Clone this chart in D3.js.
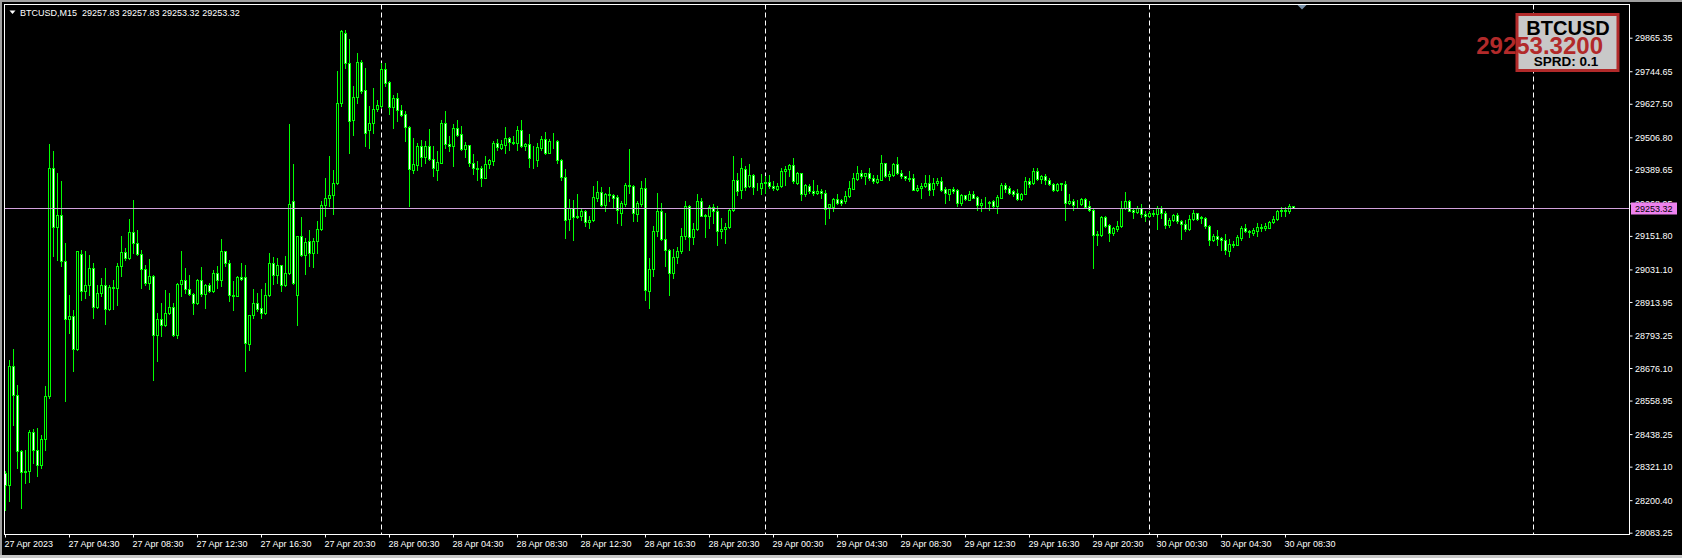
<!DOCTYPE html>
<html>
<head>
<meta charset="utf-8">
<script src="https://cdn.jsdelivr.net/npm/d3@7"></script>
<style>
  html, body { margin: 0; padding: 0; background: #000; overflow: hidden; }
  svg { display: block; }
  text { font-family: "Liberation Sans", Arial, sans-serif; }
</style>
</head>
<body>
<div id="chart"></div>
<script>
// BTCUSD M15 bars, one array per day, each bar is [open, high, low, close]
var apr27 = [
  [28298,28304,28166,28256],[28256,28706,28196,28682],[28682,28744,28472,28580],[28580,28616,28316,28376],
  [28376,28382,28172,28300],[28300,28382,28262,28304],[28304,28452,28264,28446],[28446,28456,28334,28382],
  [28382,28459,28288,28328],[28328,28436,28316,28420],[28420,28612,28380,28574],[28574,29484,28568,29396],
  [29396,29458,29078,29184],[29184,29378,29066,29228],[29228,29348,29044,29060],[29060,29126,28556,28852],
  [28852,28940,28802,28864],[28864,28886,28664,28744],[28744,29098,28742,29098],[29086,29102,28922,28952],
  [28952,29096,28928,28976],[28976,29084,28940,29036],[29036,29056,28855,28896],[28896,28976,28892,28946],
  [28946,29000,28934,28975],[28975,29036,28836,28888],[28888,28974,28886,28968],[28968,28992,28888,28966],
  [28966,29056,28904,29044],[29044,29152,29006,29094],[29094,29108,29066,29072],[29072,29212,29068,29166],
  [29166,29282,29092,29128],[29128,29174,29084,29086],[29086,29102,28964,29032],[29032,29048,28976,28984],
  [28984,29070,28960,29008],[29008,29010,28634,28796],[28796,28874,28700,28852],[28852,28910,28790,28832],
  [28832,28958,28826,28876],[28876,28946,28872,28896],[28896,28910,28790,28796],[28796,28982,28784,28978],
  [28978,29098,28936,28993],[28993,29036,28946,28960],[28960,29012,28940,28944],[28944,28946,28872,28912],
  [28912,28996,28908,28993],[28993,29040,28936,28944],[28944,28977,28891,28975],[28975,28982,28951,28952],
  [28952,29028,28951,29020],[29020,29042,28964,28992],[28992,29140,28972,29096],[29096,29098,29044,29056],
  [29056,29064,28916,28940],[28940,28988,28884,28936],[28936,29008,28934,29004],[29004,29056,28994,28996],
  [29004,29046,28664,28768],[28764,28868,28742,28866],[28866,28960,28858,28910],[28910,28946,28880,28888],
  [28892,28960,28856,28876],[28876,28982,28872,28939],[28939,29092,28936,29054],[29054,29075,28980,29010],
  [29010,29072,28982,29046],[29046,29048,28952,28976],[28976,29080,28972,29020],[29020,29556,29016,29268],
  [29276,29412,28980,28982],[28939,29152,28832,29150],[29150,29220,29080,29084],[29084,29144,29016,29130],
  [29132,29174,29042,29092],[29092,29144,29040,29134],[29134,29204,29092,29176],[29176,29276,29172,29262],
  [29262,29360,29224,29290],[29290,29440,29260,29298],[29298,29390,29232,29342],[29342,29744,29340,29630],
  [29630,29894,29618,29888],[29882,29894,29756,29774],[29774,29860,29452,29564],[29570,29690,29516,29652],
  [29652,29812,29630,29778],[29778,29784,29668,29672],[29676,29756,29476,29524],[29534,29620,29470,29560],
  [29560,29684,29522,29608],[29608,29640,29600,29624]
];
var apr28 = [
  [29620,29776,29616,29752],[29752,29776,29692,29704],[29706,29708,29592,29616],[29616,29660,29539,29648],
  [29648,29668,29564,29604],[29606,29624,29582,29586],[29590,29602,29492,29544],[29544,29546,29258,29392],
  [29388,29504,29380,29410],[29406,29488,29388,29476],[29476,29498,29402,29436],[29436,29492,29416,29476],
  [29476,29536,29426,29428],[29428,29476,29368,29396],[29388,29458,29354,29418],[29416,29568,29414,29558],
  [29558,29602,29468,29482],[29482,29512,29456,29474],[29474,29556,29402,29540],[29540,29570,29512,29516],
  [29518,29546,29460,29464],[29464,29490,29436,29479],[29479,29480,29402,29414],[29414,29446,29376,29398],
  [29398,29422,29354,29392],[29398,29402,29330,29360],[29362,29440,29360,29412],[29410,29428,29396,29426],
  [29420,29492,29408,29486],[29486,29500,29460,29472],[29470,29496,29466,29484],[29480,29544,29452,29505],
  [29505,29508,29460,29490],[29490,29512,29481,29488],[29488,29546,29462,29532],[29534,29570,29472,29474],
  [29474,29488,29460,29482],[29482,29518,29400,29432],[29432,29476,29398,29434],[29426,29488,29402,29472],
  [29468,29512,29462,29502],[29502,29526,29448,29452],[29452,29502,29450,29494],[29494,29522,29468,29492],
  [29494,29498,29416,29424],[29425,29428,29352,29364],[29364,29392,29143,29210],[29212,29284,29174,29252],
  [29252,29282,29138,29220],[29220,29304,29216,29224],[29222,29248,29210,29242],[29242,29244,29186,29202],
  [29202,29222,29180,29210],[29208,29332,29205,29292],[29288,29350,29276,29310],[29310,29328,29258,29264],
  [29264,29306,29240,29302],[29304,29328,29276,29299],[29298,29304,29256,29290],[29292,29300,29200,29244],
  [29236,29276,29190,29270],[29268,29342,29258,29336],[29336,29466,29306,29330],[29332,29336,29206,29234],
  [29230,29278,29204,29270],[29268,29348,29258,29324],[29324,29361,28922,28956],[28952,29074,28894,29032],
  [29032,29186,29006,29170],[29168,29308,29150,29240],[29240,29272,29138,29140],[29140,29236,29042,29102],
  [29102,29104,28940,29018],[29018,29104,29000,29076],[29076,29112,29054,29096],[29096,29180,29090,29152],
  [29150,29278,29140,29258],[29258,29264,29102,29148],[29148,29198,29124,29176],[29176,29304,29174,29276],
  [29276,29288,29222,29224],[29224,29232,29148,29226],[29224,29264,29180,29256],[29256,29268,29200,29240],
  [29240,29260,29120,29170],[29168,29216,29144,29178],[29176,29198,29128,29184],[29184,29252,29180,29244],
  [29244,29440,29241,29352],[29352,29380,29300,29312],[29316,29432,29290,29396],[29392,29402,29318,29328],
  [29330,29412,29328,29370],[29370,29374,29302,29328],[29326,29342,29318,29324],[29324,29376,29302,29342]
];
var apr29 = [
  [29342,29366,29306,29346],[29346,29370,29326,29330],[29330,29348,29316,29324],[29322,29342,29318,29332],
  [29330,29396,29328,29386],[29384,29402,29336,29394],[29393,29409,29366,29407],[29407,29433,29342,29348],
  [29342,29383,29340,29380],[29378,29380,29280,29302],[29302,29338,29294,29334],[29332,29340,29306,29312],
  [29314,29354,29299,29306],[29307,29334,29304,29312],[29312,29322,29288,29308],[29306,29318,29196,29248],
  [29256,29268,29218,29266],[29256,29288,29240,29284],[29284,29304,29268,29272],[29280,29284,29264,29270],
  [29276,29312,29270,29296],[29294,29350,29292,29324],[29322,29378,29320,29360],[29358,29402,29354,29378],
  [29378,29388,29359,29366],[29366,29380,29340,29378],[29378,29396,29354,29359],[29360,29372,29344,29348],
  [29346,29372,29342,29356],[29354,29444,29352,29414],[29414,29416,29364,29366],[29366,29384,29354,29376],
  [29372,29414,29368,29410],[29410,29436,29376,29378],[29380,29390,29362,29366],[29366,29368,29354,29359],
  [29360,29386,29350,29358],[29360,29376,29317,29318],[29318,29336,29314,29326],[29323,29342,29290,29332],
  [29330,29372,29328,29342],[29342,29372,29298,29318],[29320,29360,29298,29342],[29342,29360,29336,29350],
  [29350,29365,29314,29318],[29320,29328,29272,29306],[29304,29320,29280,29320],[29320,29328,29308,29314],
  [29318,29320,29260,29272],[29272,29304,29264,29300],[29298,29300,29280,29284],[29282,29314,29280,29304],
  [29304,29312,29287,29290],[29292,29294,29246,29264],[29264,29284,29242,29272],[29272,29292,29256,29270],
  [29270,29276,29246,29275],[29278,29280,29256,29258],[29258,29299,29236,29292],[29290,29342,29288,29336],
  [29336,29344,29310,29322],[29326,29330,29302,29306],[29312,29318,29296,29304],[29306,29320,29282,29284],
  [29284,29306,29282,29304],[29304,29364,29302,29348],[29350,29360,29328,29340],[29342,29396,29340,29386],
  [29386,29396,29354,29358],[29358,29372,29342,29368],[29368,29376,29340,29352],[29354,29360,29336,29338],
  [29338,29342,29314,29316],[29316,29342,29314,29338],[29338,29344,29318,29342],[29340,29348,29210,29272],
  [29272,29304,29268,29276],[29276,29284,29246,29264],[29265,29280,29256,29268],[29265,29288,29263,29286],
  [29286,29288,29254,29256],[29258,29276,29242,29244],[29246,29248,29038,29156],[29156,29170,29120,29160],
  [29156,29222,29152,29220],[29220,29222,29184,29188],[29192,29196,29132,29162],[29164,29184,29156,29180],
  [29178,29206,29168,29188],[29186,29276,29184,29252],[29252,29311,29250,29276],[29276,29280,29240,29242],
  [29246,29254,29218,29238],[29238,29258,29234,29254],[29254,29268,29220,29230],[29232,29240,29204,29222]
];
var apr30 = [
  [29222,29240,29220,29234],[29232,29246,29224,29236],[29230,29258,29178,29252],[29252,29260,29218,29234],
  [29234,29240,29182,29192],[29192,29216,29184,29210],[29208,29230,29204,29228],[29228,29234,29200,29204],
  [29206,29210,29142,29194],[29196,29210,29168,29176],[29176,29226,29172,29214],[29212,29246,29208,29236],
  [29234,29236,29210,29214],[29215,29222,29198,29220],[29216,29220,29180,29186],[29188,29192,29120,29136],
  [29138,29160,29132,29152],[29152,29174,29120,29140],[29144,29148,29102,29138],[29138,29160,29088,29100],
  [29096,29140,29080,29124],[29124,29132,29112,29120],[29120,29156,29118,29148],[29146,29186,29136,29180],
  [29180,29196,29166,29168],[29170,29174,29148,29166],[29162,29180,29156,29174],[29170,29198,29152,29184],
  [29184,29196,29170,29182],[29182,29200,29174,29186],[29182,29204,29180,29203],[29202,29222,29198,29214],
  [29212,29244,29210,29242],[29240,29256,29222,29244],[29242,29256,29222,29246],[29242,29268,29234,29258],
  [29257.83,29257.83,29253.32,29253.32]
];

// time axis labels, one every 16 bars (4 hours)
var timeLabels = ["27 Apr 2023", "27 Apr 04:30", "27 Apr 08:30", "27 Apr 12:30", "27 Apr 16:30",
  "27 Apr 20:30", "28 Apr 00:30", "28 Apr 04:30", "28 Apr 08:30", "28 Apr 12:30", "28 Apr 16:30",
  "28 Apr 20:30", "29 Apr 00:30", "29 Apr 04:30", "29 Apr 08:30", "29 Apr 12:30", "29 Apr 16:30",
  "29 Apr 20:30", "30 Apr 00:30", "30 Apr 04:30", "30 Apr 08:30"];
var priceTicks = [29865.35, 29744.65, 29627.50, 29506.80, 29389.65, 29268.95, 29151.80, 29031.10,
  28913.95, 28793.25, 28676.10, 28558.95, 28438.25, 28321.10, 28200.40, 28083.25];
var daySeparators = [94, 190, 286, 382]; // bar index of each midnight
var symbol = "BTCUSD";
var period = "M15";
var bid = 29253.32;
var spread = 0.1;

var bars = apr27.concat(apr28, apr29, apr30);
var last = bars[bars.length - 1];

var svgWidth = 1682;
var svgHeight = 558;
var plot = { left: 4.5, top: 4.5, right: 1629.5, bottom: 534.5 };

var svg = d3.select("#chart")
    .append("svg")
    .attr("width", svgWidth)
    .attr("height", svgHeight);

svg.append("rect").attr("width", svgWidth).attr("height", svgHeight).attr("fill", "#000");
// window edges
svg.append("rect").attr("x", 0).attr("y", 0).attr("width", svgWidth).attr("height", 2).attr("fill", "#a0a0a0");
svg.append("rect").attr("x", 0).attr("y", 0).attr("width", 2).attr("height", svgHeight).attr("fill", "#a0a0a0");
svg.append("rect").attr("x", 0).attr("y", 555).attr("width", svgWidth).attr("height", 3).attr("fill", "#c8c8c8");

// 4px per bar, first bar centred on x = 5.5
var xScale = d3.scaleLinear()
    .domain([0, bars.length - 1])
    .range([5.5, 5.5 + 4 * (bars.length - 1)]);

var yScale = d3.scaleLinear()
    .domain([28083.25, 29865.35])
    .range([532.7, 37.7]);

function py(v) { return Math.round(yScale(v)) + 0.5; }

svg.append("clipPath").attr("id", "plotclip")
    .append("rect")
    .attr("x", plot.left + 0.5).attr("y", plot.top + 0.5)
    .attr("width", plot.right - plot.left - 1).attr("height", plot.bottom - plot.top - 1);

var chartGroup = svg.append("g").attr("clip-path", "url(#plotclip)");

// day separators
chartGroup.selectAll(".sep").data(daySeparators).enter()
    .append("line")
    .attr("x1", d => xScale(d)).attr("x2", d => xScale(d))
    .attr("y1", plot.top).attr("y2", plot.bottom)
    .attr("stroke", "#fff")
    .attr("stroke-dasharray", "5,3");

// candles
var candle = chartGroup.selectAll(".bar").data(bars).enter().append("g");

candle.append("line")
    .attr("x1", (d, i) => xScale(i)).attr("x2", (d, i) => xScale(i))
    .attr("y1", d => py(d[1]) - 0.5).attr("y2", d => py(d[2]) + 0.5)
    .attr("stroke", "#00ff00");

candle.append("rect")
    .attr("x", (d, i) => xScale(i) - 1)
    .attr("width", 2)
    .attr("y", d => py(Math.max(d[0], d[3])))
    .attr("height", d => py(Math.min(d[0], d[3])) - py(Math.max(d[0], d[3])))
    .attr("fill", d => d[3] >= d[0] ? "#000" : "#fff")
    .attr("stroke", "#00ff00");

// bid line
chartGroup.append("line")
    .attr("x1", plot.left).attr("x2", plot.right)
    .attr("y1", py(bid)).attr("y2", py(bid))
    .attr("stroke", "#d2a2dc");

// frame
svg.append("rect")
    .attr("x", plot.left).attr("y", plot.top)
    .attr("width", plot.right - plot.left).attr("height", plot.bottom - plot.top)
    .attr("fill", "none").attr("stroke", "#fff");

// axes
var xAxis = d3.axisBottom(xScale)
    .tickValues(d3.range(0, bars.length, 16))
    .tickFormat((d, i) => timeLabels[i])
    .tickSize(3)
    .offset(0);

var xg = svg.append("g")
    .attr("transform", `translate(0, ${plot.bottom})`)
    .call(xAxis);
xg.select(".domain").remove();
xg.selectAll(".tick line").attr("stroke", "#fff");
xg.selectAll(".tick text")
    .attr("fill", "#fff")
    .attr("font-size", "9px")
    .attr("font-family", "Liberation Sans, Arial, sans-serif")
    .attr("text-anchor", "start")
    .attr("x", -1)
    .attr("y", 12)
    .attr("dy", null);

var yAxis = d3.axisRight(yScale)
    .tickValues(priceTicks)
    .tickFormat(d3.format(".2f"))
    .tickSize(3)
    .tickPadding(3);

var yg = svg.append("g")
    .attr("transform", `translate(${plot.right}, 0)`)
    .call(yAxis);
yg.select(".domain").remove();
yg.selectAll(".tick line").attr("stroke", "#fff");
yg.selectAll(".tick text")
    .attr("fill", "#fff")
    .attr("font-size", "9px")
    .attr("font-family", "Liberation Sans, Arial, sans-serif")
    .attr("x", 5.5)
    .attr("dy", "0.34em");

// bid label on the price scale
var by = py(bid);
svg.append("rect")
    .attr("x", plot.right + 1.5).attr("y", by - 6)
    .attr("width", 46).attr("height", 12)
    .attr("fill", "#ee82ee");
svg.append("text")
    .attr("x", plot.right + 5.5).attr("y", by + 3)
    .attr("font-size", "9px")
    .attr("fill", "#000")
    .text(d3.format(".2f")(bid));

// title
svg.append("path")
    .attr("d", "M9.5,10.5 L15.5,10.5 L12.5,14 Z")
    .attr("fill", "#fff");
svg.append("text")
    .attr("x", 20).attr("y", 15.5)
    .attr("font-size", "9px")
    .attr("fill", "#fff")
    .style("white-space", "pre")
    .text(`${symbol},${period}  ${last.map(d3.format(".2f")).join(" ")}`);

// chart shift marker
svg.append("path")
    .attr("d", "M1297.5,5 L1306.5,5 L1302,9.5 Z")
    .attr("fill", "#7890a8");

// symbol / price box
svg.append("rect")
    .attr("x", 1517).attr("y", 14.5)
    .attr("width", 101).attr("height", 56)
    .attr("fill", "#c8c8c8")
    .attr("stroke", "#b22a2a")
    .attr("stroke-width", 3);
svg.append("text")
    .attr("x", 1568).attr("y", 34.5)
    .attr("text-anchor", "middle")
    .attr("font-size", "20px")
    .attr("font-weight", "bold")
    .attr("fill", "#000")
    .text(symbol);
svg.append("text")
    .attr("x", 1603).attr("y", 53.5)
    .attr("text-anchor", "end")
    .attr("font-size", "24px")
    .attr("font-weight", "bold")
    .attr("fill", "#b22a2a")
    .text(d3.format(".4f")(bid));
svg.append("text")
    .attr("x", 1566).attr("y", 65.5)
    .attr("text-anchor", "middle")
    .attr("font-size", "13.5px")
    .attr("font-weight", "bold")
    .attr("fill", "#000")
    .text("SPRD: " + spread);
</script>
</body>
</html>
